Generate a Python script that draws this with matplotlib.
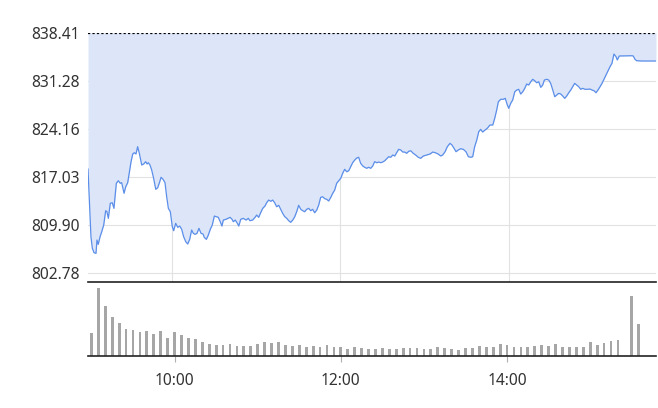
import numpy as np
import matplotlib.pyplot as plt

# intraday index, minutes after 09:00
price_min = [
    0.0, 1.2, 2.1, 3.1, 4.3, 5.7, 6.4, 7.3, 8.6, 9.8, 11.2, 12.6, 13.5, 14.5, 15.9, 17.3, 18.5,
    20.2, 21.6, 23.0, 24.0, 25.7, 26.9, 28.3, 29.4, 30.7, 31.9, 33.0, 34.2, 35.4, 36.6, 38.3,
    39.7, 41.1, 42.1, 43.0, 44.2, 45.4, 46.8, 48.3, 49.7, 50.8, 52.1, 53.5, 54.9, 56.1, 57.3,
    58.7, 60.1, 61.1, 62.5, 64.0, 65.4, 66.8, 68.2, 69.7, 71.1, 72.5, 73.9, 75.1, 76.3, 77.7,
    79.1, 80.6, 82.0, 82.9, 84.4, 85.8, 87.2, 88.6, 90.1, 91.5, 92.9, 94.3, 95.5, 96.5, 98.4,
    99.8, 101.3, 102.7, 103.6, 105.0, 106.5, 107.5, 108.9, 110.7, 112.7, 114.3, 115.5, 117.4,
    119.1, 120.3, 121.7, 123.1, 124.6, 126.2, 127.4, 128.8, 130.3, 131.7, 133.1, 134.5, 136.0,
    137.4, 138.8, 140.3, 141.7, 143.1, 144.5, 146.0, 147.4, 148.8, 150.2, 151.7, 153.1, 154.5,
    155.9, 157.4, 158.8, 160.2, 161.6, 163.1, 164.5, 165.9, 167.3, 168.8, 170.2, 171.6, 173.1,
    174.5, 175.9, 177.3, 178.8, 180.2, 181.6, 183.0, 184.5, 185.9, 187.3, 188.7, 190.2, 191.6,
    193.0, 194.4, 195.9, 197.3, 198.7, 200.1, 201.6, 203.0, 204.4, 205.9, 207.3, 208.7, 210.1,
    211.6, 213.0, 214.4, 215.8, 217.3, 218.7, 220.1, 221.5, 223.0, 224.4, 225.8, 227.2, 228.7,
    230.1, 231.9, 233.9, 235.5, 237.2, 239.1, 241.5, 243.9, 245.8, 247.6, 249.6, 251.5, 252.9,
    254.6, 256.2, 258.1, 259.5, 261.0, 262.4, 264.0, 265.7, 267.6, 269.5, 271.2, 272.9, 274.3,
    275.7, 277.2, 278.6, 280.0, 281.4, 283.1, 284.7, 286.6, 288.6, 290.0, 291.4, 292.6, 294.3,
    296.1, 297.5, 299.0, 300.0, 301.4, 302.8, 304.3, 305.7, 307.1, 308.5, 310.0, 311.4, 312.8,
    314.2, 315.7, 317.1, 318.5, 319.9, 321.4, 322.8, 324.2, 325.4, 327.1, 328.5, 329.9, 331.4,
    332.8, 334.2, 335.6, 337.1, 338.5, 339.9, 341.3, 342.8, 344.2, 345.6, 347.0, 348.5, 349.9,
    351.3, 352.7, 354.4, 356.0, 357.9, 359.4, 360.8, 362.2, 363.6, 365.1, 366.5, 367.9, 369.3,
    370.8, 372.2, 373.6, 375.0, 376.5, 377.4, 378.8, 387.7, 388.8, 390.0, 391.2, 394.8, 405.0,
]
price_val = [
    818.22, 812.64, 808.20, 806.48, 805.83, 805.74, 807.71, 807.07, 808.20, 808.94, 809.93,
    812.05, 811.90, 810.92, 813.15, 813.23, 812.40, 816.11, 816.49, 816.11, 816.20, 814.63,
    815.60, 816.20, 817.59, 819.31, 820.45, 820.64, 820.45, 821.53, 820.55, 818.82, 818.97,
    819.31, 818.97, 819.16, 818.82, 818.08, 816.85, 815.22, 815.46, 816.11, 817.00, 816.70,
    816.20, 814.12, 812.40, 811.90, 809.68, 809.09, 810.18, 809.59, 809.78, 809.30, 808.20,
    807.46, 807.12, 807.81, 809.19, 808.70, 808.55, 808.70, 809.44, 808.70, 808.60, 808.11,
    807.81, 808.45, 809.30, 809.93, 811.26, 811.16, 811.07, 810.42, 809.78, 810.67, 810.78,
    810.92, 811.07, 810.78, 810.42, 810.67, 810.18, 809.78, 810.78, 810.92, 810.67, 810.92,
    810.57, 810.67, 811.07, 811.41, 811.07, 811.75, 812.40, 812.75, 813.23, 813.63, 813.44,
    813.63, 813.23, 812.64, 812.85, 812.26, 811.66, 811.16, 810.92, 810.57, 810.33, 810.67,
    811.16, 811.90, 812.85, 812.26, 812.05, 811.90, 812.26, 812.40, 812.05, 812.26, 811.75,
    812.15, 812.89, 814.03, 814.12, 813.83, 813.74, 813.49, 814.03, 814.63, 815.11, 816.11,
    816.49, 816.85, 817.59, 818.18, 817.82, 817.97, 818.57, 819.16, 819.56, 819.85, 819.96,
    819.07, 818.67, 818.48, 818.33, 818.48, 818.33, 818.67, 819.31, 819.16, 819.26, 819.16,
    819.26, 819.45, 819.75, 820.05, 819.96, 820.30, 820.15, 820.64, 821.14, 821.04, 820.74,
    820.74, 820.55, 820.85, 820.93, 820.55, 820.25, 819.96, 819.81, 820.15, 820.30, 820.45,
    820.74, 820.64, 820.45, 820.15, 820.30, 820.79, 821.53, 822.03, 821.78, 821.29, 820.79,
    821.04, 821.23, 821.14, 820.79, 820.05, 819.96, 820.05, 821.53, 822.52, 823.75, 824.10,
    823.70, 824.00, 824.25, 824.74, 824.74, 825.73, 826.96, 828.19, 828.55, 828.55, 828.69,
    827.70, 827.21, 827.95, 828.44, 829.67, 829.92, 830.03, 829.33, 829.67, 830.17, 830.81,
    830.66, 831.15, 831.51, 831.30, 831.00, 831.15, 830.32, 830.66, 831.40, 831.51, 831.40,
    830.91, 829.92, 828.93, 829.18, 829.43, 829.33, 829.03, 828.69, 829.03, 829.52, 829.92,
    830.41, 830.91, 830.66, 830.41, 830.03, 830.17, 830.03, 830.03, 830.07, 829.92, 829.82,
    829.52, 829.92, 830.41, 830.91, 831.51, 832.14, 832.78, 833.37, 833.88, 835.25, 834.85,
    834.37, 834.96, 835.00, 834.96, 834.47, 834.26, 834.22, 834.22,
]

# 5-minute volume bars from 09:00 (15:25 slot empty: closing auction)
volume = [
    70, 204, 150, 117, 99, 81, 78, 72, 75, 66, 75, 54, 72, 63, 54, 51, 42, 36, 33, 33,
    36, 30, 30, 30, 36, 42, 39, 42, 33, 30, 33, 27, 30, 27, 33, 27, 27, 21, 27, 24,
    21, 21, 24, 21, 21, 24, 24, 24, 21, 21, 27, 24, 21, 18, 24, 24, 30, 27, 27, 36,
    33, 27, 27, 27, 30, 33, 30, 36, 27, 27, 27, 27, 42, 33, 39, 45, 48, 0, 180, 96,
]

y_ticks = [802.78, 809.90, 817.03, 824.16, 831.28, 838.41]
x_ticks = [60, 180, 300]
x_labels = ["10:00", "12:00", "14:00"]

plt.rcParams["font.family"] = ["Noto Sans", "DejaVu Sans"]

fig = plt.figure(figsize=(6.58, 4.08), dpi=100)
ax = fig.add_axes([0.13374, 0.30956, 0.86322, 0.61029])
axv = fig.add_axes([0.13374, 0.12745, 0.86322, 0.18211])

# price panel
ax.fill_between(price_min, price_val, y_ticks[-1], color="#dce6f8", lw=0)
ax.plot(price_min, price_val, color="#5b8ee9", lw=0.9)
for v in y_ticks[:-1]:
    ax.axhline(v, color="#e2e2e2", lw=0.8, zorder=0)
for t in x_ticks:
    ax.axvline(t, color="#e2e2e2", lw=0.8, zorder=0)
ax.axhline(y_ticks[-1], color="black", lw=1.6, ls=(0, (1, 1)))
ax.set_xlim(0, 405)
ax.set_ylim(801.54, 838.41)
ax.set_yticks(y_ticks)
ax.set_yticklabels([f"{v:.2f}" for v in y_ticks])
ax.tick_params(axis="y", length=0, pad=6, labelsize=11.2, labelcolor="#333333")
ax.set_xticks([])
for s in ax.spines.values():
    s.set_visible(False)

# volume panel
pos = np.arange(len(volume)) * 5
axv.bar(pos, volume, width=2.0, color="#a6a6a6")
axv.set_xlim(-2.5, 407.5)
axv.set_ylim(0, 223)
axv.set_yticks([])
axv.set_xticks(x_ticks)
axv.set_xticklabels(x_labels)
axv.tick_params(axis="x", length=4, width=0.8, color="#b0b0b0", pad=8,
                labelsize=11.2, labelcolor="#333333")
axv.spines["left"].set_visible(False)
axv.spines["right"].set_visible(False)
axv.spines["top"].set_color("#222222")
axv.spines["bottom"].set_color("#222222")
axv.spines["top"].set_linewidth(1.2)
axv.spines["bottom"].set_linewidth(1.2)

fig.savefig("out.png", dpi=100)
